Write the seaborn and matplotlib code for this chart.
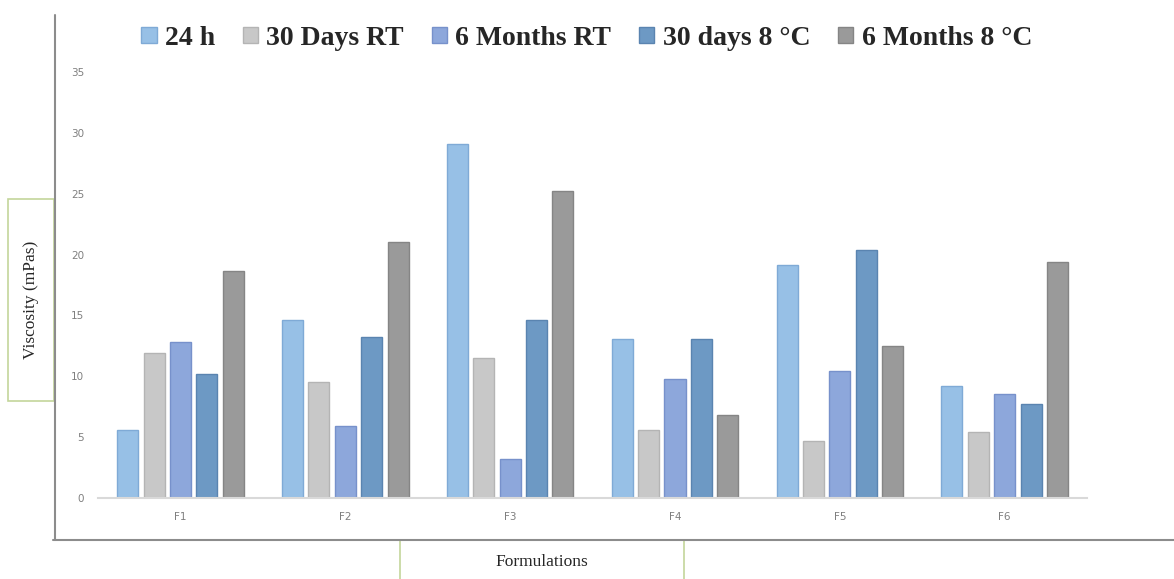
import matplotlib
matplotlib.use("Agg")
import matplotlib.pyplot as plt
from matplotlib.patches import Rectangle
from matplotlib.lines import Line2D
import seaborn as sns
import pandas as pd

formulations = ["F1", "F2", "F3", "F4", "F5", "F6"]
periods = ["24 h", "30 Days RT", "6 Months RT", "30 days 8 °C", "6 Months 8 °C"]

h24 = [5.6, 14.6, 29.1, 13.1, 19.15, 9.2]
days30_rt = [11.9, 9.5, 11.5, 5.6, 4.7, 5.4]
months6_rt = [12.85, 5.95, 3.2, 9.75, 10.45, 8.55]
days30_8c = [10.2, 13.25, 14.6, 13.1, 20.4, 7.7]
months6_8c = [18.65, 21.0, 25.25, 6.8, 12.45, 19.4]

colors = ["#97C0E6", "#C8C8C8", "#8DA7DB", "#6D99C4", "#9A9A9A"]
edges = ["#7FAAD6", "#B4B4B4", "#7791CB", "#5A84B0", "#858585"]

series = [h24, days30_rt, months6_rt, days30_8c, months6_8c]
rows = []
for p, vals in zip(periods, series):
    for f, v in zip(formulations, vals):
        rows.append({"Formulation": f, "Period": p, "Viscosity": v})
df = pd.DataFrame(rows)

sns.set_style("white")
fig = plt.figure(figsize=(11.74, 5.79), dpi=100)
ax = fig.add_axes([0.0835, 0.140, 0.8425, 0.7356])

sns.barplot(data=df, x="Formulation", y="Viscosity", hue="Period",
            palette=colors, saturation=1, width=0.8, gap=0.2, ax=ax, legend=True)

for cont, ec in zip(ax.containers, edges):
    for bar in cont:
        bar.set_edgecolor(ec)
        bar.set_linewidth(1.0)

ax.set_ylim(0, 35)
ax.set_xlim(-0.5, 5.5)
ax.set_yticks(range(0, 36, 5))
ax.set_xlabel("")
ax.set_ylabel("")
for s in ["top", "right", "left"]:
    ax.spines[s].set_visible(False)
ax.spines["bottom"].set_color("#D9D9D9")
ax.spines["bottom"].set_linewidth(1.5)
ax.tick_params(axis="both", length=0, labelsize=7.5, labelcolor="#7F7F7F", pad=10)

handles, labels = ax.get_legend_handles_labels()
for h, ec in zip(handles, edges):
    h.set_edgecolor(ec)
ax.legend(handles, labels, loc="center", bbox_to_anchor=(0.494, 1.079), ncol=5,
          frameon=False, handlelength=0.55, handleheight=0.55, handletextpad=0.3,
          columnspacing=1.0, prop={"family": "Liberation Serif", "weight": "bold", "size": 20})

# outer frame lines
fig.add_artist(Line2D([0.0468, 0.0468], [0.0674, 0.974], color="#8C8C8C", lw=1.5))
fig.add_artist(Line2D([0.045, 1.0], [0.0674, 0.0674], color="#8C8C8C", lw=1.5))

# axis title boxes
fig.add_artist(Rectangle((0.0068, 0.3074), 0.0392, 0.349, transform=fig.transFigure,
                         facecolor="white", edgecolor="#C3D69B", lw=1.2))
fig.text(0.0264, 0.482, "Viscosity (mPas)", rotation=90, ha="center", va="center",
         family="Liberation Serif", fontsize=12.5)
fig.add_artist(Rectangle((0.3407, -0.01), 0.2419, 0.0774, transform=fig.transFigure,
                         facecolor="white", edgecolor="#C3D69B", lw=1.2))
fig.text(0.4616, 0.029, "Formulations", ha="center", va="center",
         family="Liberation Serif", fontsize=12.5)

fig.savefig("out.png", dpi=100)
